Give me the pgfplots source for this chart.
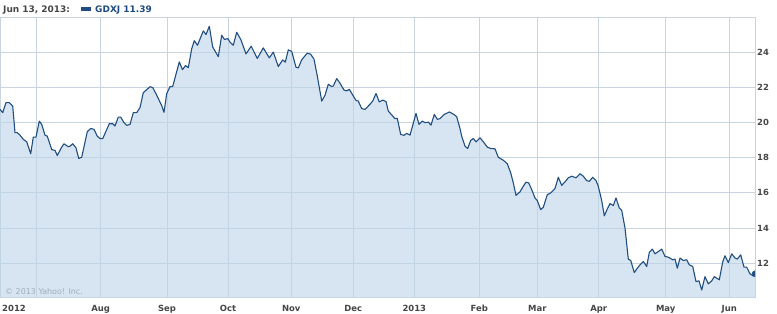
\documentclass[border=0pt]{standalone}
\usepackage{pgfplots}
\pgfplotsset{compat=1.18}
\usepackage{pgfplotstable}
\usepackage{fontspec}
\setmainfont{DejaVu Sans}
\definecolor{gridc}{RGB}{200,212,223}
\definecolor{fillc}{RGB}{187,212,232}
\definecolor{linec}{RGB}{32,78,130}
\definecolor{labc}{RGB}{70,70,70}
\definecolor{hdrblue}{RGB}{30,75,130}
\definecolor{copyc}{RGB}{160,172,185}
\pgfplotstableread{
x y
0 20.76
2.7 20.57
6 21.14
9.3 21.14
12.7 20.95
15 19.43
17.3 19.43
20 19.29
23.3 19.05
26.7 18.91
30.7 18.23
33.3 19.18
36 19.18
39.3 20.09
41.7 19.90
45 19.29
47.3 19.23
51.7 18.47
55 18.42
57.3 18.13
61.7 18.61
64 18.80
68.3 18.63
70 18.66
72.7 18.80
76 18.57
78.7 17.96
81.7 18.03
87.3 19.49
90.7 19.67
94 19.62
97.3 19.23
100 19.10
102.7 19.09
109.3 19.94
112.7 19.94
115 19.81
118.3 20.32
120.7 20.32
124 20.00
126.7 19.85
130 19.90
133.3 20.57
136.7 20.57
140 20.86
143.3 21.71
150 22.05
152.7 22.00
156 21.65
161.7 20.97
164 20.59
166.7 21.65
170 22.05
172.7 22.06
179.3 23.46
182.5 23.02
185.5 23.25
188.3 23.13
191.7 24.21
194.3 24.67
197.5 24.41
203.3 25.23
206 25.02
209.3 25.49
212.7 24.31
218.3 23.76
221.7 24.98
224.5 24.74
227.8 24.79
230 24.59
233.3 24.41
236.7 25.15
240.7 24.75
246 23.92
251.2 24.36
257.3 23.66
263.3 24.26
269.3 23.69
273.3 24.02
278.3 23.20
282.7 23.58
285.3 23.45
288.3 24.15
291.7 24.06
296 23.16
298.3 23.12
301.7 23.58
305 23.81
307.3 23.96
310.7 23.90
314 23.62
317.3 22.66
321.7 21.23
325 21.56
328.3 22.19
331.7 22.06
333.3 22.09
336.7 22.51
340 22.25
344 21.86
346.7 21.81
349.3 21.90
353.3 21.52
356 21.27
358.3 21.23
361.7 20.80
365 20.76
370 21.05
372.7 21.23
376 21.66
379.3 21.18
382.7 21.29
386 21.20
388.3 20.66
392.7 20.38
395 20.23
397.3 20.25
400.7 19.33
404 19.28
406.7 19.39
410 19.29
416 20.53
419 19.90
422.3 20.09
425 20.00
428.3 20.03
431 19.86
434.3 20.47
437.3 20.19
440 20.23
444 20.46
449.3 20.61
454 20.47
456.7 20.34
460 19.66
461.7 19.23
465 18.66
467.7 18.53
470.7 18.99
473.3 19.10
476 18.91
480 19.14
483.3 18.91
487.3 18.61
490.7 18.53
495 18.51
498.3 18.03
503.3 17.86
507.3 17.66
510.7 17.14
513.3 16.57
516 15.86
520 16.06
523.3 16.38
526 16.61
528.7 16.57
531.7 16.19
535 15.71
537.3 15.56
540.7 15.05
543.3 15.18
547.3 15.90
550.7 16.00
555 16.25
558.3 16.89
561.7 16.43
565 16.63
568.3 16.86
571.7 16.95
576 16.86
580 17.09
583.3 16.95
586.7 16.70
589.3 16.66
592.7 16.89
596 16.70
598.3 16.38
601.7 15.56
604.3 14.69
607.3 15.09
610 15.39
613.3 15.28
616 15.71
619.3 15.14
621.7 15.01
625 14.00
628.3 12.23
630.7 12.15
634.3 11.46
637.3 11.71
640 11.90
643.3 12.09
646.7 11.81
649.3 12.61
652.3 12.80
655 12.53
658.3 12.66
661.7 12.80
665 12.38
668.3 12.34
672.7 12.19
675 12.23
677.3 11.71
680 12.29
683.3 12.15
686.7 12.19
689.3 11.90
692.7 11.81
696 10.95
699 10.99
701.7 10.47
705 11.23
708.3 10.82
711.7 10.99
714.3 11.23
719.3 11.05
722.7 12.07
725 12.42
728.3 12.03
731.7 12.53
735 12.29
737.3 12.23
740.7 12.47
744 11.77
746.7 11.77
750 11.39
753.3 11.27
755 11.39
}\gdxj
\begin{document}
\begin{tikzpicture}
\begin{axis}[
  name=ax,
  scale only axis,
  width=755bp, height=280bp,
  xmin=0, xmax=755,
  ymin=10.07, ymax=26.02,
  axis line style={draw=gridc, line width=0.8bp},
  tick style={draw=none},
  major tick length=0pt,
  xtick={14,100.7,167,228,291.3,353.3,414.3,479.3,537.3,598.7,665.7,729.3},
  xticklabels={2012,Aug,Sep,Oct,Nov,Dec,2013,Feb,Mar,Apr,May,Jun},
  xticklabel style={font=\fontsize{8.5}{10}\selectfont\bfseries, text=labc, anchor=base, yshift=-14bp},
  extra x ticks={36,100.7,167,228,291.3,353.3,414.3,479.3,537.3,598.7,665.7,729.3},
  extra x tick labels={},
  extra x tick style={grid=major},
  ytick={12,14,16,18,20,22,24},
  yticklabels={12,14,16,18,20,22,24},
  yticklabel pos=right,
  yticklabel style={font=\fontsize{8.5}{10}\selectfont\bfseries, text=labc, anchor=west, inner sep=0pt, xshift=2bp},
  ymajorgrids,
  grid style={draw=gridc, line width=0.8bp},
  clip marker paths=true,
]
\addplot[draw=none, fill=fillc, fill opacity=0.6] table[x=x,y=y] {\gdxj} \closedcycle;
\addplot[draw=linec, line width=1.1bp, line join=round] table[x=x,y=y] {\gdxj};
\addplot[only marks, mark=*, mark size=3bp, mark options={fill=linec, draw=linec}] coordinates {(755,11.39)};
\end{axis}
\node[anchor=base west, inner sep=0pt, font=\fontsize{9}{10}\selectfont\bfseries, text=labc] at ([xshift=3bp,yshift=4.3bp]ax.north west) {Jun 13, 2013:};
\fill[hdrblue] ([xshift=81bp,yshift=6bp]ax.north west) rectangle ([xshift=91bp,yshift=10bp]ax.north west);
\node[anchor=base west, inner sep=0pt, font=\fontsize{9}{10}\selectfont\bfseries, text=hdrblue] at ([xshift=95bp,yshift=4.3bp]ax.north west) {GDXJ 11.39};
\node[anchor=base west, inner sep=0pt, font=\fontsize{8}{9}\selectfont, text=copyc] at ([xshift=5bp,yshift=2.7bp]ax.south west) {© 2013 Yahoo! Inc.};
\pgfresetboundingbox
\path ([yshift=-17bp]ax.south west) rectangle ([xshift=22bp,yshift=17bp]ax.north east);
\end{tikzpicture}
\end{document}
